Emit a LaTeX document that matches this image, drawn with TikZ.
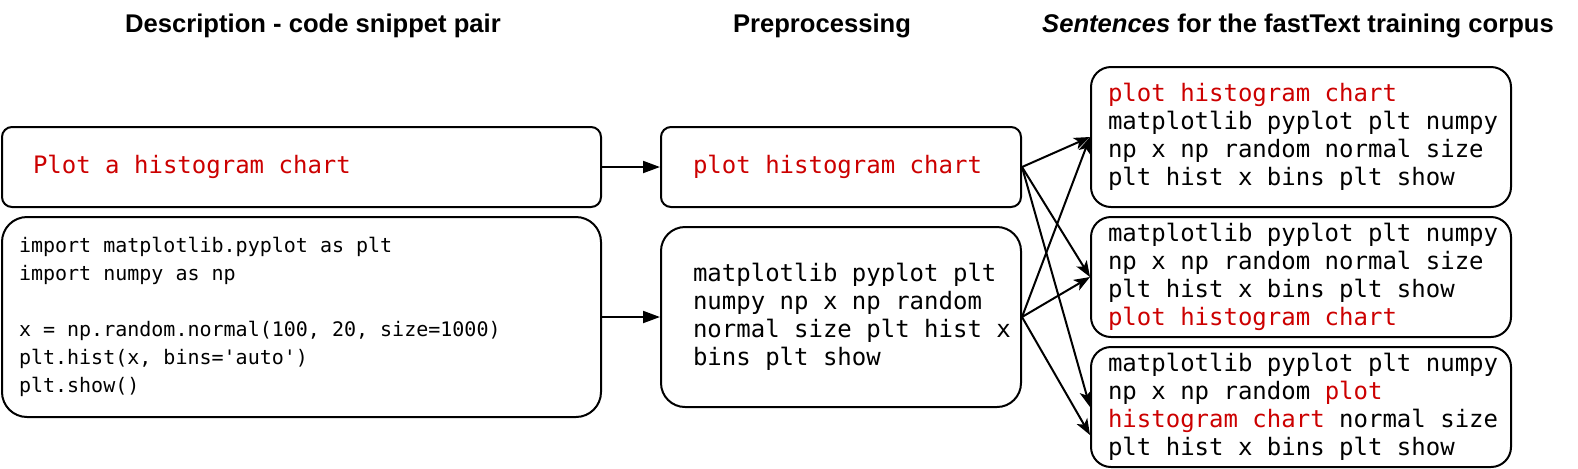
\documentclass[tikz,border=0pt]{standalone}
\usepackage{fontspec}
\setmainfont{Liberation Sans}
\setmonofont{DejaVu Sans Mono}
\usetikzlibrary{arrows.meta}
\definecolor{descred}{RGB}{204,0,0}
\newcommand{\txtpad}[2]{\leftskip=#1\relax\spaceskip=0pt\xspaceskip=0pt #2\par}
\begin{document}
\begin{tikzpicture}[x=0.5pt,y=-0.5pt,
  box/.style={draw,line width=1pt,inner sep=0pt,align=left,font=\fontsize{12pt}{14pt}\ttfamily\selectfont},
  head/.style={anchor=base,inner sep=0pt,font=\fontsize{12.8pt}{15pt}\selectfont\bfseries},
  flat/.style={line width=1pt,-{Triangle[length=8.5pt,width=6pt]}},
  fan/.style={line width=1pt,-{Stealth[length=8pt,width=6pt,inset=2pt]}}]
\useasboundingbox (0,0) rectangle (1578,468);
% column titles
\node[head] (t1) at (313,32) {Description - code snippet pair};
\node[head] (t2) at (822,32) {Preprocessing};
\node[head] (t3) at (1298,32) {\textit{Sentences} for the fastText training corpus};
% description and code
\node[box,rounded corners=5pt,minimum width=299.5pt,minimum height=40pt,text width=295.5pt,text=descred] (d1) at (301.5,167) {\txtpad{13.5pt}{Plot a histogram chart}};
\node[box,rounded corners=12.5pt,minimum width=299.5pt,minimum height=100pt,text width=295.5pt,font=\fontsize{10pt}{14pt}\ttfamily\selectfont] (d2) at (301.5,317) {\txtpad{6.5pt}{import matplotlib.pyplot as plt\\import numpy as np\\[14pt]x = np.random.normal(100, 20, size=1000)\\plt.hist(x, bins='auto')\\plt.show()}};
% preprocessing
\node[box,rounded corners=5pt,minimum width=180pt,minimum height=40pt,text width=176pt,text=descred] (p1) at (841,167) {\txtpad{14pt}{plot histogram chart}};
\node[box,rounded corners=12pt,minimum width=180pt,minimum height=90pt,text width=176pt] (p2) at (841,317) {\txtpad{14pt}{matplotlib pyplot plt\\numpy np x np random\\normal size plt hist x\\bins plt show}};
% sentences
\node[box,rounded corners=10pt,minimum width=210pt,minimum height=70pt,text width=206pt] (s1) at (1301,137) {\txtpad{6.5pt}{\textcolor{descred}{plot histogram chart}\\matplotlib pyplot plt numpy\\np x np random normal size\\plt hist x bins plt show}};
\node[box,rounded corners=10pt,minimum width=210pt,minimum height=60pt,text width=206pt] (s2) at (1301,277) {\txtpad{6.5pt}{matplotlib pyplot plt numpy\\np x np random normal size\\plt hist x bins plt show\\\textcolor{descred}{plot histogram chart}}};
\node[box,rounded corners=10pt,minimum width=210pt,minimum height=60pt,text width=206pt] (s3) at (1301,407) {\txtpad{6.5pt}{matplotlib pyplot plt numpy\\np x np random \textcolor{descred}{plot}\\\textcolor{descred}{histogram chart} normal size\\plt hist x bins plt show}};
\coordinate (s3low) at ([yshift=-14pt]s3.west);
% connectors
\draw[flat] (d1.east) -- (p1.west);
\draw[flat] (d2.east) -- (p2.west);
\draw[fan] (p1.east) -- (s1.west);
\draw[fan] (p1.east) -- (s2.west);
\draw[fan] (p1.east) -- (s3.west);
\draw[fan] (p2.east) -- (s1.west);
\draw[fan] (p2.east) -- (s2.west);
\draw[fan] (p2.east) -- (s3low);
\end{tikzpicture}
\end{document}
